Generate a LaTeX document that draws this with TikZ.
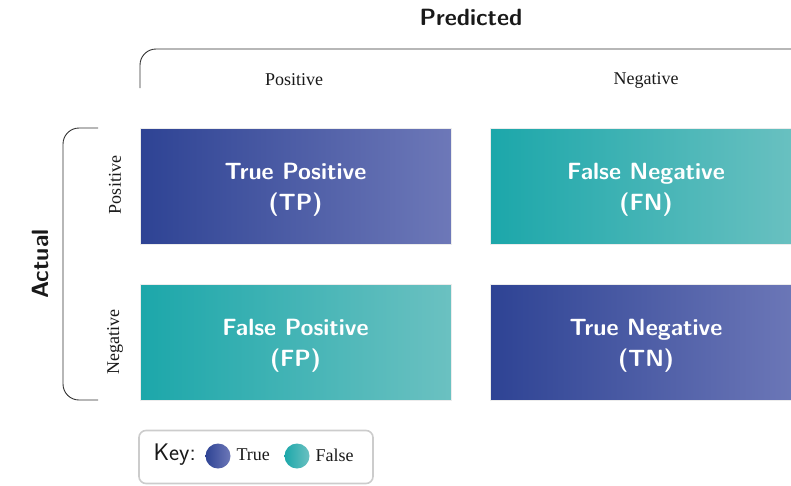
\documentclass[tikz,border=0pt]{standalone}
\usepackage{fontspec}
\setmainfont{Liberation Serif}
\definecolor{trueL}{HTML}{2E4394}
\definecolor{trueR}{HTML}{6D78B8}
\definecolor{falseL}{HTML}{1CA7AA}
\definecolor{falseR}{HTML}{6BC1C1}
\definecolor{brk}{HTML}{333333}
\tikzset{
  cell/.style={minimum width=311pt, minimum height=116pt, inner sep=0pt, draw=white!85!gray, line width=0.6pt},
  truecell/.style={cell, left color=trueL, right color=trueR},
  falsecell/.style={cell, left color=falseL, right color=falseR},
  celltext/.style={text=white, align=center, font=\fontsize{23.5}{30.5}\selectfont\sffamily\bfseries},
  axlbl/.style={font=\fontsize{18}{22}\selectfont, text=black!90},
  title/.style={font=\fontsize{23.5}{28}\selectfont\sffamily\bfseries, text=black!90},
  brace/.style={draw=brk, line width=0.9pt, rounded corners=16pt},
  dot/.style={circle, minimum size=25pt, inner sep=0pt},
}
\begin{document}
\begin{tikzpicture}[x=1pt, y=-1pt]
\useasboundingbox (0,0) rectangle (791,485);
% cells
\node[truecell]  (tp) at (295.5,186) {};
\node[falsecell] (fn) at (646,186)   {};
\node[falsecell] (fp) at (295.5,342) {};
\node[truecell]  (tn) at (646,342)   {};
\node[celltext] (tpt) at ([yshift=-4pt]tp.center) {True Positive\\(TP)};
\node[celltext] (fnt) at ([yshift=-4pt]fn.center) {False Negative\\(FN)};
\node[celltext] (fpt) at ([yshift=-4pt]fp.center) {False Positive\\(FP)};
\node[celltext] (tnt) at ([yshift=-4pt]tn.center) {True Negative\\(TN)};
% titles
\node[title] (pred) at (471,17) {Predicted};
\node[title, rotate=90] (act) at (40,264) {Actual};
% column / row labels
\node[axlbl] (cpos) at (294,80) {Positive};
\node[axlbl] (cneg) at (646,80) {Negative};
\node[axlbl, rotate=90] (rpos) at (115,185) {Positive};
\node[axlbl, rotate=90] (rneg) at (115,342) {Negative};
% brackets
\coordinate (t1) at (140,88);
\coordinate (t2) at (140,49);
\coordinate (t3) at (791,49);
\draw[brace] (t1) -- (t2) -- (t3);
\coordinate (l1) at (98,128);
\coordinate (l2) at (63,128);
\coordinate (l3) at (63,400);
\coordinate (l4) at (98,400);
\draw[brace] (l1) -- (l2) -- (l3) -- (l4);
% key
\node[draw=black!20, line width=1.6pt, rounded corners=7pt, minimum width=234pt, minimum height=53pt] (key) at (256,457) {};
\node[font=\fontsize{24}{28}\selectfont\sffamily, text=black!90, anchor=west] (keyt) at (150,455) {Key:};
\node[dot, left color=trueL, right color=trueR] (kt) at (218,456) {};
\node[axlbl, anchor=west] (ktl) at (233,455) {True};
\node[dot, left color=falseL, right color=falseR] (kf) at (297,456) {};
\node[axlbl, anchor=west] (kfl) at (312,455) {False};
\end{tikzpicture}
\end{document}
